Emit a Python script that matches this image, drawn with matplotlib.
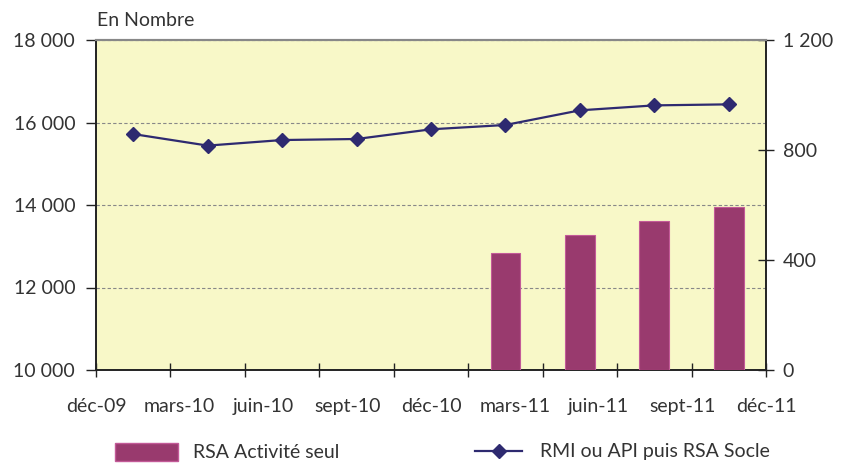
import matplotlib
matplotlib.use("Agg")
import matplotlib.pyplot as plt
from matplotlib.lines import Line2D
from matplotlib.patches import Patch
import numpy as np

plt.rcParams['font.family'] = ['Lato', 'DejaVu Sans']

tick_labels = ["déc-09", "mars-10", "juin-10", "sept-10", "déc-10",
               "mars-11", "juin-11", "sept-11", "déc-11"]
rmi_values = [15720, 15440, 15575, 15600, 15835, 15940, 16295, 16415, 16440]
rsa_activite_cats = [5, 6, 7, 8]
rsa_activite_values = [427, 491, 542, 594]

left_ticks = [10000, 12000, 14000, 16000, 18000]
right_ticks = [0, 400, 800, 1200]

bg = "#F8F8C8"
bar_color = "#993A6E"
bar_edge = "#C35A98"
line_color = "#2E2A70"
text_color = "#333333"

fig = plt.figure(figsize=(8.45, 4.63), dpi=100)
ax = fig.add_axes([96/845, (463-370)/463, (766-96)/845, 330/463])
ax.set_facecolor(bg)
ax2 = ax.twinx()
ax2.patch.set_visible(False)

n = len(rmi_values)
x = np.arange(n)
ax.plot(x, rmi_values, color=line_color, lw=1.6, marker='D', ms=7.5,
        mec=line_color, mfc=line_color, zorder=5)
ax2.bar(rsa_activite_cats, rsa_activite_values, width=0.4, color=bar_color,
        edgecolor=bar_edge, linewidth=0.8, zorder=3)

ax.set_xlim(-0.5, n - 0.5)
ax.set_ylim(10000, 18000)
ax2.set_ylim(0, 1200)

ax.set_yticks(left_ticks)
ax.set_yticklabels([f"{v:,}".replace(",", " ") for v in left_ticks])
ax2.set_yticks(right_ticks)
ax2.set_yticklabels([f"{v:,}".replace(",", " ") for v in right_ticks])

# major ticks at category boundaries, labels evenly spread across axis
ax.xaxis.remove_overlapping_locs = False
ax.set_xticks(np.arange(-0.5, n, 1.0))
ax.set_xticklabels([])
lab_pos = np.linspace(-0.5, n - 0.5, len(tick_labels))
ax.set_xticks(lab_pos, tick_labels, minor=True)
ax.tick_params(axis='x', which='minor', length=0, pad=20,
               labelsize=14, labelcolor=text_color)
ax.tick_params(axis='x', which='major', direction='inout', length=10,
               width=1, color='#222222')
ax.tick_params(axis='y', direction='out', length=7, width=1, color='#222222',
               labelsize=14, labelcolor=text_color, pad=8)
ax2.tick_params(axis='y', direction='inout', length=12, width=1, color='#222222',
                labelsize=14, labelcolor=text_color, pad=6)

ax.yaxis.grid(True, linestyle=(0, (3, 2)), color='#888888', lw=0.8)
ax.set_axisbelow(True)

for a in (ax, ax2):
    a.spines['top'].set_color('#888888')
    a.spines['top'].set_linewidth(1.5)
    a.spines['left'].set_color('#222222')
    a.spines['right'].set_color('#222222')
    a.spines['bottom'].set_color('#222222')
    a.spines['left'].set_linewidth(1.2)
    a.spines['right'].set_linewidth(1.2)
    a.spines['bottom'].set_linewidth(1.2)

fig.text(97/845, 1 - 20/463, "En Nombre", fontsize=14, color=text_color,
         va='center', ha='left')

h1 = Patch(facecolor=bar_color, edgecolor=bar_edge)
leg1 = fig.legend([h1], ["RSA Activité seul"], loc='center left',
                  bbox_to_anchor=(98/845, 1 - 452/463), frameon=False,
                  fontsize=14, handlelength=3.2, handleheight=1.1,
                  handletextpad=0.8, labelcolor=text_color)
h2 = Line2D([], [], color=line_color, lw=1.6, marker='D', ms=7.5,
            mfc=line_color, mec=line_color)
leg2 = fig.legend([h2], ["RMI ou API puis RSA Socle"], loc='center left',
                  bbox_to_anchor=(458/845, 1 - 452/463), frameon=False,
                  fontsize=14, handlelength=2.4, handletextpad=0.9,
                  labelcolor=text_color)

fig.savefig("out.png", dpi=100)
